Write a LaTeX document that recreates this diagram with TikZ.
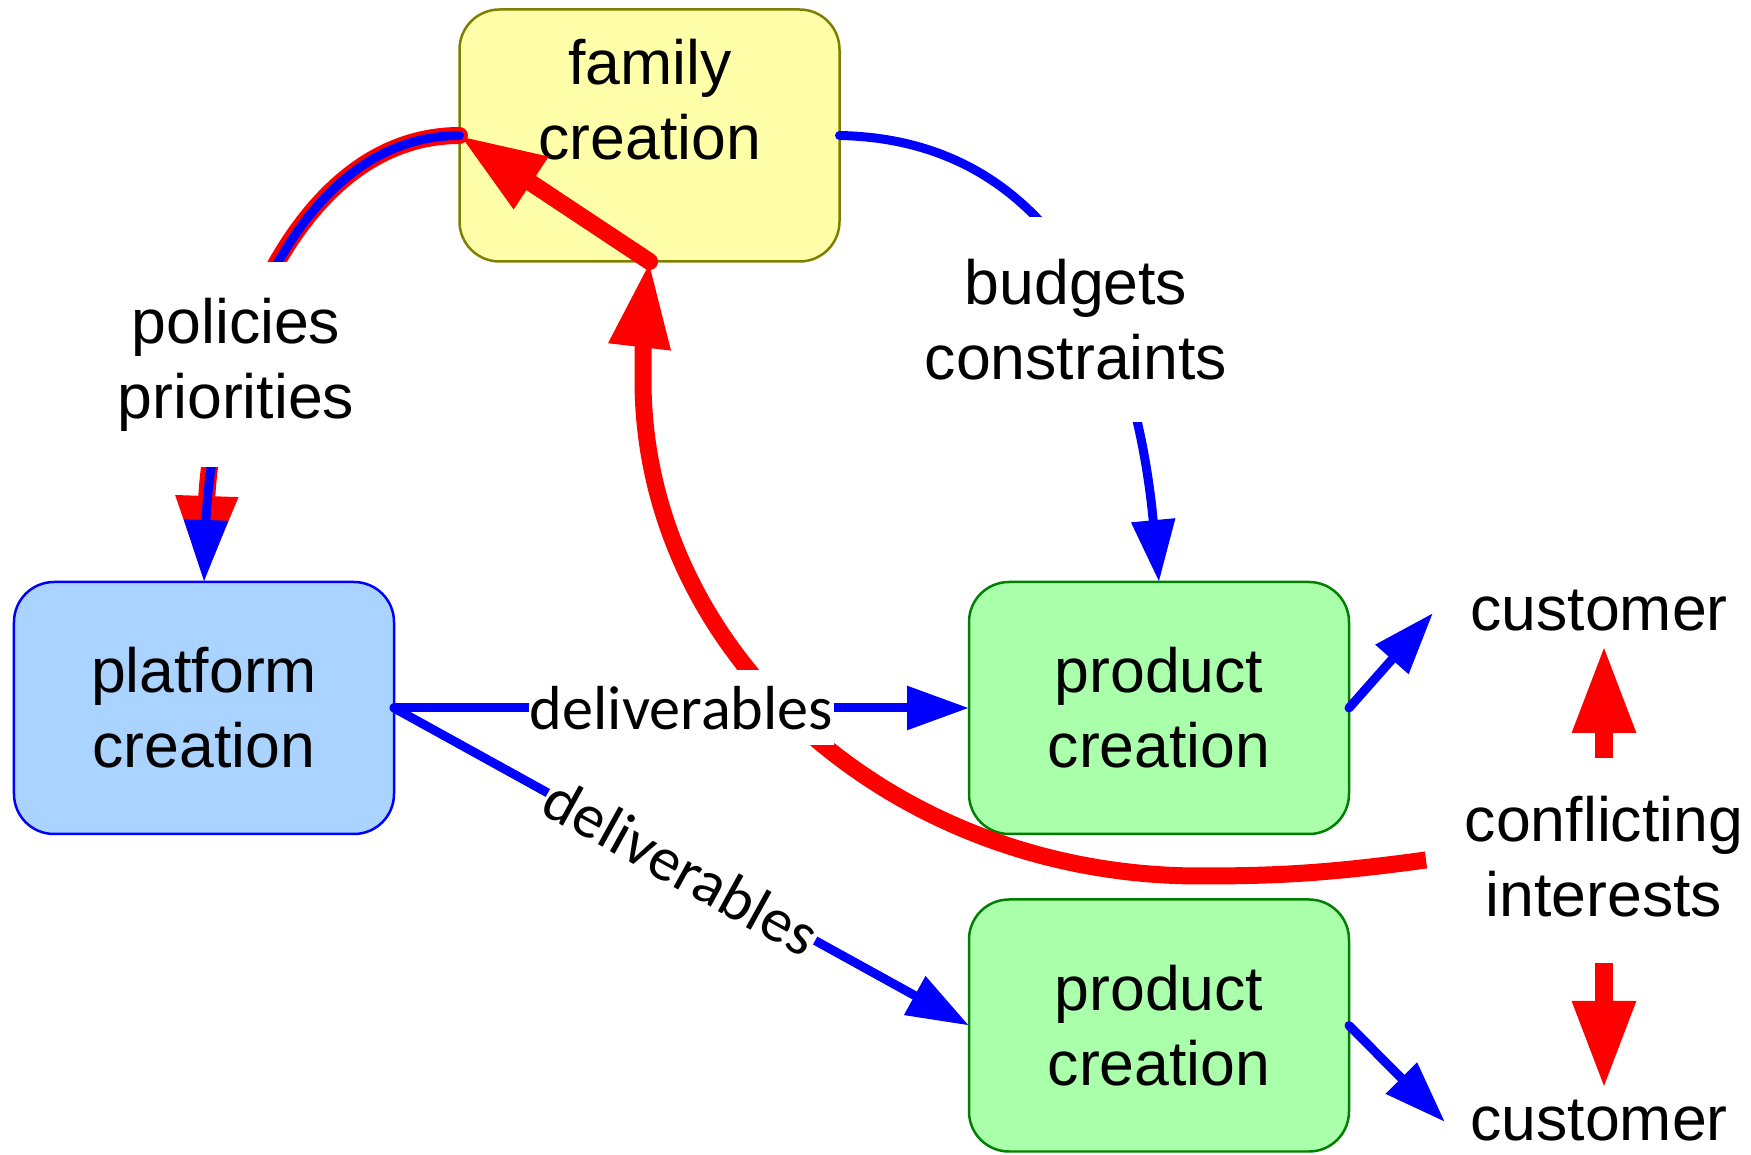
\documentclass[tikz,border=0pt]{standalone}
\usepackage{fontspec}
\setmainfont{Liberation Sans}
\newfontfamily\calfont{Carlito}
\usetikzlibrary{arrows.meta,calc}
\definecolor{famfill}{HTML}{FFFFAA}
\definecolor{famdraw}{HTML}{808000}
\definecolor{platfill}{HTML}{AAD4FF}
\definecolor{platdraw}{HTML}{0000FF}
\definecolor{prodfill}{HTML}{AAFFAA}
\definecolor{proddraw}{HTML}{008000}
\begin{document}
\begin{tikzpicture}[x=1cm,y=1cm,
  font=\fontsize{17.8pt}{21.3pt}\selectfont,
  box/.style={rounded corners=0.4cm, line width=0.025cm, minimum width=3.8cm, minimum height=2.52cm, outer sep=0pt, align=center, inner sep=0pt},
  fambox/.style={box, fill=famfill, draw=famdraw},
  platbox/.style={box, fill=platfill, draw=platdraw},
  prodbox/.style={box, fill=prodfill, draw=proddraw},
  txt/.style={align=center, inner sep=0pt},
  gaplabel/.style={txt, fill=white, minimum height=2.05cm, inner xsep=0.1cm},
  dellabel/.style={fill=white, font=\calfont\fontsize{17.7pt}{21.3pt}\selectfont, inner xsep=0.01cm, inner ysep=0pt, minimum height=0.75cm},
  bluearrow/.style={draw=blue, line width=0.09cm, line cap=round, -{Triangle[length=0.62cm,width=0.42cm]}},
  redarrow/.style={draw=red, line width=0.17cm, -{Triangle[length=0.86cm,width=0.58cm]}}]

\useasboundingbox (0,0) rectangle (17.51,-11.55);

% boxes
\node[fambox] (fam) at (6.495,-1.355) {};
\node[txt] (famtxt) at (6.50,-1.00) {family\\creation};
\node[platbox] (plat) at (2.04,-7.08) {platform\\creation};
\node[prodbox] (p1) at (11.59,-7.08) {product\\creation};
\node[prodbox] (p2) at (11.59,-10.255) {product\\creation};

% free texts
\node[txt, anchor=base] (cust1) at (15.99,-6.31) {customer};
\node[txt, anchor=base] (cust2) at (15.99,-11.41) {customer};
\node[txt] (conf) at (16.04,-8.57) {conflicting\\interests};

% helper coordinates
\coordinate (cstart) at (14.26,-8.60);
\coordinate (cb1) at (12.00,-8.76);
\coordinate (cb2) at (6.43,-3.80);
\coordinate (up0) at (16.04,-7.58);
\coordinate (up1) at (16.04,-6.45);
\coordinate (dn0) at (16.04,-9.63);
\coordinate (dn1) at (16.04,-10.89);
\coordinate (c1tip) at (14.33,-6.13);
\coordinate (c2tip) at (14.45,-11.22);

% red conflict curve
\draw[redarrow, line cap=butt] (cstart) .. controls (13.30,-8.73) and (12.80,-8.76) .. (cb1)
  .. controls (8.92,-8.76) and (6.43,-6.53) .. (cb2)
  .. controls (6.43,-3.30) and (6.45,-3.00) .. (fam.south);

% deliverables
\draw[bluearrow] (plat.east) -- node[dellabel] (del1) {deliverables} (p1.west);
\draw[bluearrow] (plat.east) -- node[dellabel, sloped] (del2) {deliverables} (p2.west);

% red family arrow
\draw[redarrow, line cap=round] (fam.south) -- (fam.west);

% policies
\draw[redarrow, line cap=round] (fam.west) .. controls (2.80,-1.36) and (2.10,-4.00) .. (plat.north);
\draw[bluearrow] (fam.west) .. controls (2.80,-1.36) and (2.10,-4.00) .. (plat.north);
\node[gaplabel] (pol) at (2.36,-3.645) {policies\\priorities};

% budgets
\draw[bluearrow] (fam.east) .. controls (10.80,-1.40) and (11.40,-3.80) .. (p1.north);
\node[gaplabel] (bud) at (10.76,-3.195) {budgets\\constraints};

% customers
\draw[bluearrow] (p1.east) -- (c1tip);
\draw[bluearrow] (p2.east) -- (c2tip);
\draw[redarrow, line width=0.18cm, line cap=butt, -{Triangle[length=0.88cm,width=0.59cm]}] (up0) -- (up1);
\draw[redarrow, line width=0.18cm, line cap=butt, -{Triangle[length=0.88cm,width=0.59cm]}] (dn0) -- (dn1);
\end{tikzpicture}
\end{document}
